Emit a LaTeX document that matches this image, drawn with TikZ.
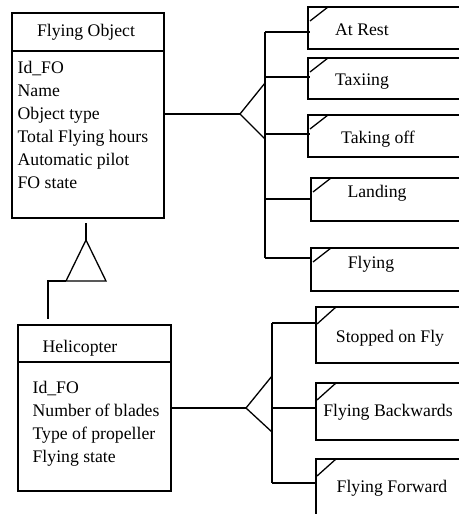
\documentclass[tikz,border=0pt]{standalone}
\usepackage{fontspec}
\setmainfont{Liberation Serif}
\begin{document}
\begin{tikzpicture}[x=0.5pt,y=-0.5pt,line width=0.65pt,
    txt/.style={font=\fontsize{8.85}{11.5}\selectfont,inner sep=0pt},
    attrs/.style={txt,align=left,anchor=north west}]
  \useasboundingbox (0,0) rectangle (459,514);
  \clip (0,0) rectangle (459,514);
  % classes
  \coordinate (FOnw) at (12,13);
  \coordinate (FOse) at (164,218);
  \draw (FOnw) rectangle (FOse);
  \draw (12,51) -- (164,51);
  \node[txt,anchor=base] (FOname) at (86,36) {Flying Object};
  \node[attrs] (FOattr) at (17,61) {Id\_FO\\Name\\Object type\\Total Flying hours\\Automatic pilot\\FO state};
  \coordinate (HEnw) at (18,325);
  \coordinate (HEse) at (171,491);
  \draw (HEnw) rectangle (HEse);
  \draw (18,362) -- (171,362);
  \node[txt,anchor=base] (HEname) at (80,352) {Helicopter};
  \node[attrs] (HEattr) at (32,381) {Id\_FO\\Number of blades\\Type of propeller\\Flying state};
  % inheritance
  \coordinate (FObot) at (86,223);
  \coordinate (inhTop) at (86,240);
  \coordinate (inhL) at (66,281);
  \coordinate (inhR) at (106,281);
  \coordinate (HEtop) at (48,319);
  \draw (FObot) -- (inhTop);
  \draw (inhTop) -- (inhR) -- (inhL) -- cycle;
  \draw (inhL) -- (48,281) -- (HEtop);
  % states of flying object
  \coordinate (FOright) at (164,114);
  \coordinate (FOapex) at (240,114);
  \draw (FOright) -- (FOapex);
  \draw (265,83) -- (FOapex) -- (265,139);
  \draw (265,32) -- (265,258);
  \foreach \y in {32,77,134,199,258}
    \draw (265,\y) -- (310,\y);
  \foreach \n/\l/\t/\b/\tx/\ty/\s in {rest/308/7/49/362/35/At Rest,
      taxi/308/58/99/362/85/Taxiing,
      takeoff/308/115/157/378/143/Taking off,
      land/311/178/221/377/197/Landing,
      fly/311/248/291/371/268/Flying}{
    \draw (470,\t) -- (\l,\t) -- (\l,\b) -- (470,\b);
    \draw (\l+2,\t+14) -- (\l+20,\t);
    \node[txt,anchor=base] (\n) at (\tx,\ty) {\s};
  }
  % states of helicopter
  \coordinate (HEright) at (171,408);
  \coordinate (HEapex) at (246,408);
  \draw (HEright) -- (HEapex);
  \draw (272,376) -- (HEapex) -- (272,432);
  \draw (272,323) -- (272,483);
  \foreach \y in {323,408,483}
    \draw (272,\y) -- (317,\y);
  \foreach \n/\l/\t/\b/\tx/\ty/\s in {stop/316/307/363/390/342/Stopped on Fly,
      back/316/383/440/388/416/Flying Backwards,
      fwd/316/459/530/392/492/Flying Forward}{
    \draw (470,\t) -- (\l,\t) -- (\l,\b) -- (470,\b);
    \draw (\l+1,\t+17) -- (\l+20,\t);
    \node[txt,anchor=base] (\n) at (\tx,\ty) {\s};
  }
\end{tikzpicture}
\end{document}
